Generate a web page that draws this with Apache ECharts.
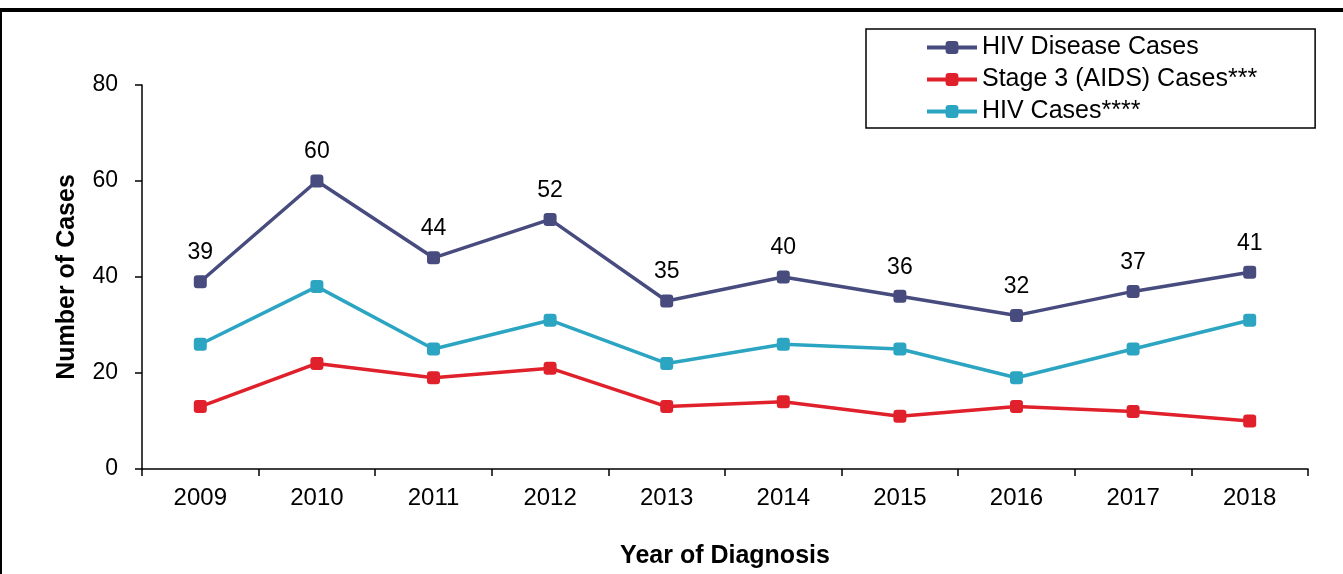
<!DOCTYPE html>
<html>
<head>
<meta charset="utf-8">
<script src="https://cdn.jsdelivr.net/npm/echarts@6/dist/echarts.min.js"></script>
<style>
  html, body { margin: 0; padding: 0; background: #fff; }
  #chart { width: 1343px; height: 574px; }
</style>
</head>
<body>
<div id="chart"></div>
<script>
// 数据
var years = ["2009", "2010", "2011", "2012", "2013", "2014", "2015", "2016", "2017", "2018"];
var hivDisease = [39, 60, 44, 52, 35, 40, 36, 32, 37, 41];
var stage3 = [13, 22, 19, 21, 13, 14, 11, 13, 12, 10];
var hivCases = [26, 38, 25, 31, 22, 26, 25, 19, 25, 31];
var seriesNames = ["HIV Disease Cases", "Stage 3 (AIDS) Cases***", "HIV Cases****"];

(function () {
  var font = "'Liberation Sans', Arial, sans-serif";
  var myEcharts = echarts.init(document.getElementById('chart'));

  function lineSeries(name, data, color, showLabel) {
    return {
      name: name,
      type: 'line',
      data: data,
      symbol: 'roundRect',
      symbolSize: 13,
      showSymbol: true,
      animation: false,
      lineStyle: { color: color, width: 3.5 },
      itemStyle: { color: color },
      label: {
        show: showLabel,
        position: 'top',
        distance: 11,
        color: '#000',
        fontSize: 23,
        fontFamily: font
      },
      emphasis: { disabled: true }
    };
  }

  var option = {
    animation: false,
    color: ["#474B7E", "#E0202B", "#2CA5C2"],
    grid: {
      left: 142,
      right: 35,
      top: 85,
      bottom: 105,
      containLabel: false
    },
    legend: {
      orient: 'vertical',
      left: 866,
      top: 29,
      padding: [6, 58, 4, 59],
      itemGap: 7,
      itemWidth: 50,
      itemHeight: 16,
      borderColor: '#000',
      borderWidth: 1.5,
      borderRadius: 0,
      backgroundColor: '#fff',
      lineStyle: { width: 4 },
      textStyle: { fontSize: 25, color: '#000', fontFamily: font, padding: [0, 0, 0, 0] },
      data: seriesNames
    },
    xAxis: {
      type: 'category',
      data: years,
      boundaryGap: true,
      name: 'Year of Diagnosis',
      nameLocation: 'middle',
      nameGap: 75,
      nameTextStyle: { fontSize: 25, fontWeight: 'bold', color: '#000', fontFamily: font },
      axisLine: { lineStyle: { color: '#000', width: 1.5 } },
      axisTick: { show: true, length: 7, lineStyle: { color: '#000', width: 1.5 } },
      axisLabel: { color: '#000', fontSize: 24, margin: 17, fontFamily: font },
      splitLine: { show: false }
    },
    yAxis: {
      type: 'value',
      min: 0,
      max: 80,
      interval: 20,
      name: 'Number of Cases',
      nameLocation: 'middle',
      nameGap: 62,
      nameTextStyle: { fontSize: 25, fontWeight: 'bold', color: '#000', fontFamily: font },
      axisLine: { show: true, lineStyle: { color: '#000', width: 1.5 } },
      axisTick: { show: true, length: 7, lineStyle: { color: '#000', width: 1.5 } },
      axisLabel: { color: '#000', fontSize: 23, margin: 24, fontFamily: font },
      splitLine: { show: false }
    },
    graphic: [
      // 外框：上边粗线和左边线
      { type: 'line', shape: { x1: 0, y1: 10, x2: 1343, y2: 10 }, style: { stroke: '#000', lineWidth: 4 } },
      { type: 'line', shape: { x1: 1, y1: 10, x2: 1, y2: 574 }, style: { stroke: '#000', lineWidth: 2 } }
    ],
    series: [
      lineSeries(seriesNames[0], hivDisease, "#474B7E", true),
      lineSeries(seriesNames[1], stage3, "#E0202B", false),
      lineSeries(seriesNames[2], hivCases, "#2CA5C2", false)
    ]
  };
  myEcharts.setOption(option);
  window.addEventListener('resize', function () {
    myEcharts.resize();
  });
})();
</script>
</body>
</html>
